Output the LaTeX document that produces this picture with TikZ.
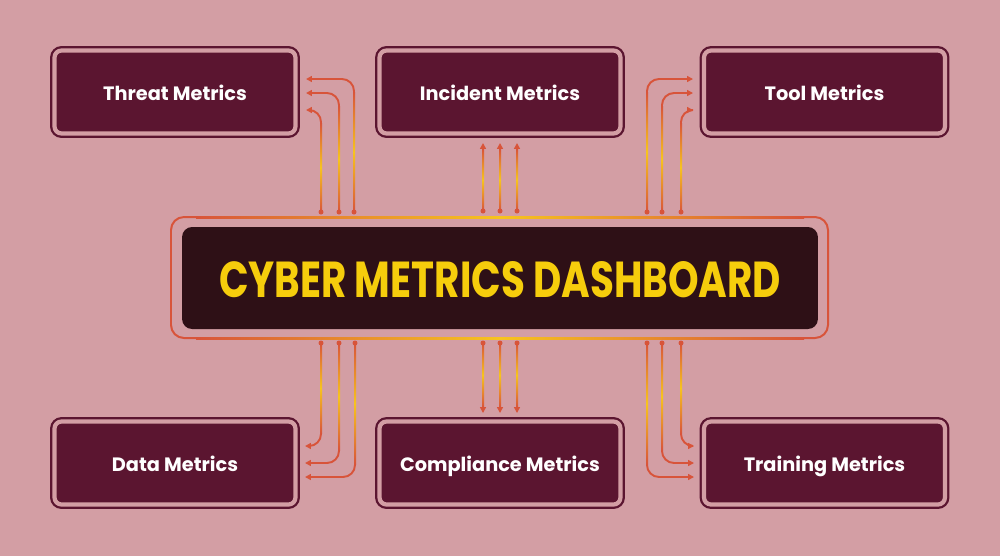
\documentclass[tikz,border=0pt]{standalone}
\usepackage{fontspec}
\usepackage{graphicx}
\setmainfont{Poppins}
\usetikzlibrary{arrows.meta,calc}
\definecolor{bg}{RGB}{211,158,164}
\definecolor{maroon}{RGB}{91,21,48}
\definecolor{darkfill}{RGB}{46,16,22}
\definecolor{ora}{RGB}{216,84,58}
\definecolor{yel}{RGB}{247,196,30}
\definecolor{gold}{RGB}{246,205,12}
\begin{document}
\begin{tikzpicture}[x=0.02cm,y=-0.02cm,
  metric/.style={fill=maroon, draw=maroon, line width=1.3pt, double=bg, double distance=2.4pt,
    rounded corners=0.14cm, minimum width=4.82cm, minimum height=1.66cm, inner sep=0pt,
    text=white, font=\bfseries\fontsize{11}{13}\selectfont, text height=9.6pt, text depth=0pt},
  conn/.style={draw=ora, line width=1.1pt, rounded corners=0.24cm, -{Triangle[length=3.3pt,width=3.3pt]}},
  vgrad/.style={top color=ora, bottom color=ora, middle color=yel},
  hgrad/.style={left color=ora, right color=ora, middle color=yel},
  dot/.style={fill=ora}
]
\fill[bg] (0,0) rectangle (1000,556);
\useasboundingbox (0,0) rectangle (1000,556);

% metric boxes
\node[metric] (threat) at (175,92) {Threat Metrics};
\node[metric] (incident) at (500,92) {Incident Metrics};
\node[metric] (tool) at (824.5,92) {Tool Metrics};
\node[metric] (data) at (175,463) {Data Metrics};
\node[metric] (compliance) at (500,463) {Compliance Metrics};
\node[metric] (training) at (824.5,463) {Training Metrics};

% central dashboard
\draw[ora, line width=1.13pt, rounded corners=0.26cm] (171,217) rectangle (828,338);
\shade[hgrad] (196,216) rectangle (804,218);
\shade[hgrad] (196,337) rectangle (804,339);
\node[fill=darkfill, rounded corners=0.2cm, minimum width=12.72cm, minimum height=2.04cm, inner sep=0pt] (dash) at (500,278) {};
\node[inner sep=0pt, text=gold] (title) at (500,280) {\resizebox{11.24cm}{0.72cm}{\bfseries CYBER METRICS DASHBOARD}};

% top-left connectors
\foreach \x/\y [count=\i] in {354/79,339/93,321/110} {
  \coordinate (tl\i) at (\x,212); \coordinate (tle\i) at (306,\y);
  \draw[conn] (tl\i) |- (tle\i);
  \shade[vgrad] ($(tl\i)+(-1,0)$) rectangle ($(tl\i |- tle\i)+(1,13)$);
  \fill[dot] (tl\i) circle[radius=0.05cm];
}
% top-right connectors
\foreach \x/\y [count=\i] in {647/79,662/93,681/110} {
  \coordinate (tr\i) at (\x,212); \coordinate (tre\i) at (693,\y);
  \draw[conn] (tr\i) |- (tre\i);
  \shade[vgrad] ($(tr\i)+(-1,0)$) rectangle ($(tr\i |- tre\i)+(1,13)$);
  \fill[dot] (tr\i) circle[radius=0.05cm];
}
% top-middle connectors
\foreach \x [count=\i] in {483,500,517} {
  \coordinate (tm\i) at (\x,211); \coordinate (tme\i) at (\x,143);
  \draw[conn] (tm\i) -- (tme\i);
  \shade[vgrad] ($(tm\i)+(-1,0)$) rectangle ($(tme\i)+(1,6)$);
  \fill[dot] (tm\i) circle[radius=0.05cm];
}
% bottom-left connectors
\foreach \x/\y [count=\i] in {321/446,339/463,355/477} {
  \coordinate (bl\i) at (\x,343); \coordinate (ble\i) at (305,\y);
  \draw[conn] (bl\i) |- (ble\i);
  \shade[vgrad] ($(bl\i)+(-1,0)$) rectangle ($(bl\i |- ble\i)+(1,-13)$);
  \fill[dot] (bl\i) circle[radius=0.05cm];
}
% bottom-right connectors
\foreach \x/\y [count=\i] in {681/446,662/463,647/477} {
  \coordinate (br\i) at (\x,343); \coordinate (bre\i) at (694,\y);
  \draw[conn] (br\i) |- (bre\i);
  \shade[vgrad] ($(br\i)+(-1,0)$) rectangle ($(br\i |- bre\i)+(1,-13)$);
  \fill[dot] (br\i) circle[radius=0.05cm];
}
% bottom-middle connectors
\foreach \x [count=\i] in {483,500,517} {
  \coordinate (bm\i) at (\x,343); \coordinate (bme\i) at (\x,413);
  \draw[conn] (bm\i) -- (bme\i);
  \shade[vgrad] ($(bm\i)+(-1,0)$) rectangle ($(bme\i)+(1,-6)$);
  \fill[dot] (bm\i) circle[radius=0.05cm];
}
\end{tikzpicture}
\end{document}
